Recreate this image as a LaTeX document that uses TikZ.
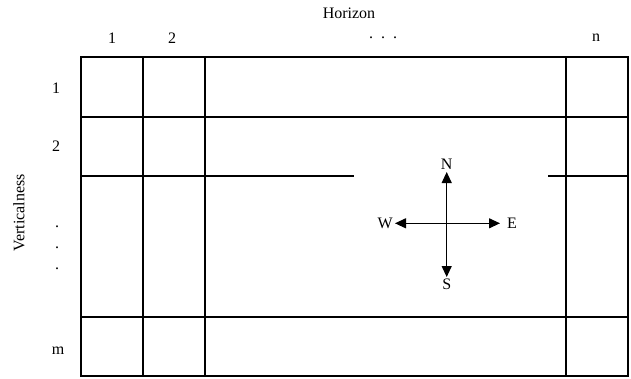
\documentclass[tikz,border=0pt]{standalone}
\usepackage{fontspec}
\setmainfont{Liberation Serif}
\usetikzlibrary{arrows.meta,positioning}
\tikzset{every picture/.style={x=1pt,y=-1pt}}
\tikzset{gridline/.style={line width=1.5pt}}
\tikzset{axislabel/.style={font=\fontsize{16}{18}\selectfont,inner sep=1pt}}
\tikzset{compass/.style={line width=1.1pt,-{Triangle[length=11pt,width=10pt]}}}
\begin{document}
\begin{tikzpicture}
	\useasboundingbox (0,0) rectangle (631,378);
	% table
	\draw[gridline] (81,57) rectangle (628,376);
	\draw[gridline] (143,57) -- (143,376);
	\draw[gridline] (205,57) -- (205,376);
	\draw[gridline] (566,57) -- (566,376);
	\draw[gridline] (81,117) -- (628,117);
	\draw[gridline] (81,317) -- (628,317);
	\draw[gridline] (81,176) -- (354,176);
	\draw[gridline] (548,176) -- (628,176);
	% headers
	\node[axislabel] (horizon) at (349,13) {Horizon};
	\node[axislabel] (col1) at (112,38) {1};
	\node[axislabel] (col2) at (172,38) {2};
	\node[axislabel] (coldots) at (383,38) {.\ \ .\ \ .};
	\node[axislabel] (coln) at (596,38) {n};
	\node[axislabel,rotate=90] (vertical) at (19,213) {Verticalness};
	\node[axislabel] (row1) at (56,88) {1};
	\node[axislabel] (row2) at (56,146) {2};
	\node[axislabel,align=center] (rowdots) at (57,248) {.\\[3pt].\\[3pt].};
	\node[axislabel] (rowm) at (58,351) {m};
	% compass
	\coordinate (c) at (446.7,223.3);
	\coordinate (tipN) at (446.7,172);
	\coordinate (tipS) at (446.7,277);
	\coordinate (tipW) at (395,223.3);
	\coordinate (tipE) at (500,223.3);
	\node[axislabel,above=1pt of tipN] (N) {N};
	\node[axislabel,below=1pt of tipS] (S) {S};
	\node[axislabel,left=1pt of tipW] (W) {W};
	\node[axislabel,right=6pt of tipE] (E) {E};
	\draw[compass] (c) -- (tipN);
	\draw[compass] (c) -- (tipS);
	\draw[compass] (c) -- (tipW);
	\draw[compass] (c) -- (tipE);
\end{tikzpicture}
\end{document}
